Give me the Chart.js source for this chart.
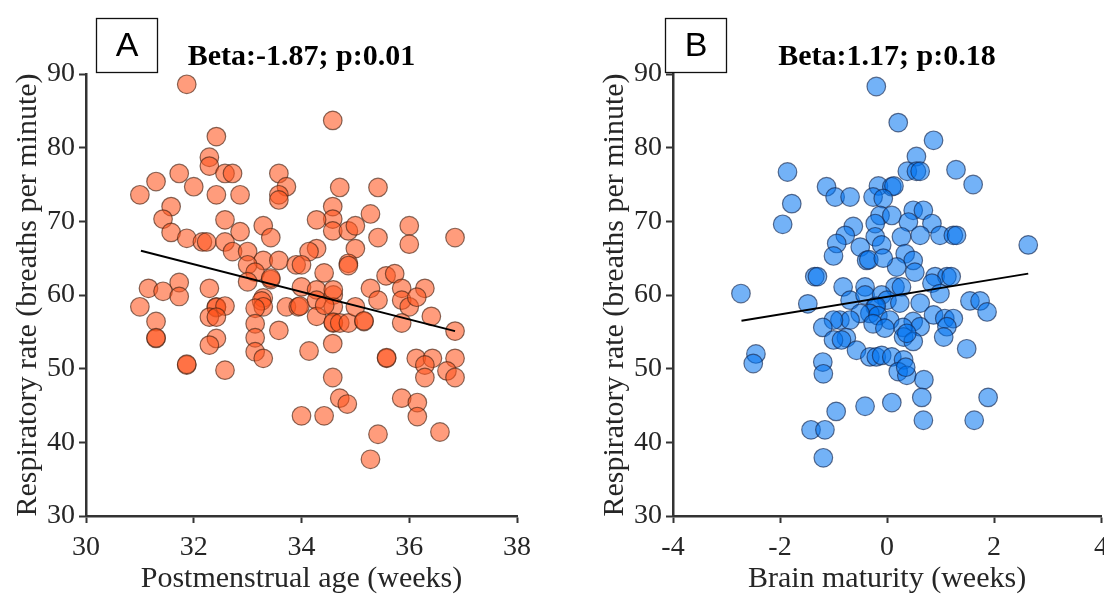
<!DOCTYPE html>
<html>
<head>
<meta charset="utf-8">
<script src="https://cdn.jsdelivr.net/npm/chart.js@4.4.1/dist/chart.umd.min.js"></script>
<style>
    html, body { margin: 0; padding: 0; background: #fff; overflow: hidden; }
    body { width: 1104px; height: 597px; position: relative; }
    .panel { position: absolute; top: 0; width: 552px; height: 597px; }
</style>
</head>
<body>
<div class="panel" style="left:0"><canvas id="chartA"></canvas></div>
<div class="panel" style="left:587px"><canvas id="chartB"></canvas></div>
<script>
// Panel A: postmenstrual age vs respiratory rate
const ageWeeksA = [
    31.87, 32.42, 32.29, 32.29, 32.58, 32.72, 33.58, 33.72, 33.58, 33.58,
    31.73, 31.30, 31.00, 32.00, 32.42, 32.86, 31.58, 31.43, 31.58, 31.87,
    32.16, 32.24, 32.58, 32.86, 32.58, 32.72, 33.00, 33.29, 33.43, 33.29,
    33.58, 33.00, 33.14, 33.43, 33.43, 33.00, 33.90, 31.16, 31.43, 31.73,
    31.73, 32.29, 34.58, 34.71, 35.42, 34.58, 34.58, 34.58, 34.28, 34.87,
    35.00, 35.28, 35.42, 36.00, 36.00, 36.85, 35.00, 34.28, 34.14, 34.00,
    34.42, 34.87, 34.87, 35.57, 35.73, 35.28, 35.86, 36.29, 34.00, 31.00,
    31.30, 31.30, 31.30, 32.42, 32.42, 32.58, 32.29, 32.42, 32.42, 32.29,
    31.87, 31.87, 32.58, 33.29, 33.26, 33.29, 33.14, 33.14, 33.14, 33.14,
    33.29, 33.58, 33.72, 33.94, 33.97, 34.28, 34.28, 34.59, 34.59,
    34.28, 34.59, 34.59, 34.71, 34.87, 35.00, 35.16, 35.16, 35.42, 35.86,
    36.00, 36.14, 36.41, 35.86, 36.85, 34.14, 34.58, 34.58, 34.71, 34.85,
    34.00, 34.42, 35.58, 35.58, 36.13, 36.43, 36.29, 36.29, 36.85, 36.70,
    36.85, 35.86, 36.15, 36.15, 35.42, 36.57, 35.28, 34.59, 34.43
];
const rateA = [
    88.6, 81.5, 78.7, 77.5, 76.5, 76.5, 76.5, 74.7, 73.6, 72.9,
    76.5, 75.4, 73.6, 74.7, 73.6, 73.6, 72.0, 70.3, 68.5, 67.7,
    67.2, 67.2, 70.2, 68.6, 67.2, 65.9, 65.9, 69.4, 67.8, 64.7,
    64.7, 64.1, 63.1, 62.1, 62.3, 61.8, 64.1, 60.9, 60.5, 61.7,
    59.8, 60.9, 83.7, 74.6, 74.6, 72.0, 70.3, 68.7, 70.2, 68.7,
    69.4, 71.0, 67.8, 69.4, 66.9, 67.8, 66.3, 66.3, 65.9, 64.1,
    63.0, 64.3, 64.0, 62.6, 62.9, 60.9, 60.9, 60.9, 61.1, 58.4,
    56.4, 54.1, 54.2, 58.4, 58.3, 58.5, 57.0, 57.0, 54.1, 53.2,
    50.5, 50.6, 49.8, 59.6, 59.2, 58.4, 58.2, 56.1, 54.2, 52.3,
    51.4, 55.2, 58.4, 58.4, 58.5, 60.7, 59.3, 60.0, 58.4,
    57.1, 56.2, 56.3, 56.2, 56.2, 58.4, 56.4, 56.5, 59.3, 59.3,
    58.4, 59.7, 57.1, 56.2, 55.1, 52.4, 53.4, 48.8, 46.0, 45.2,
    43.6, 43.6, 51.4, 51.5, 51.4, 51.4, 50.5, 48.8, 51.4, 49.7,
    48.8, 46.0, 45.4, 43.5, 41.1, 41.4, 37.7, 60.7, 58.6
];
const fitXA = [31.02, 36.85];
const fitYA = [66.0, 55.1];

// Panel B: brain maturity vs respiratory rate
const maturityB = [
    -0.20, 0.21, 0.87, 0.55, 0.38, 0.55, 0.62, 1.29, 1.61, -1.86,
    -1.78, -1.95, -1.13, -0.16, 0.09, 0.13, -0.97, -0.69, -0.26, -0.07,
    0.49, 0.68, -0.13, 0.09, -0.22, -0.63, 0.40, 0.84, -0.78, -0.22,
    0.27, 0.62, 0.99, 1.24, 1.30, -0.94, -1.00, -0.50, -0.10, 0.34,
    0.49, -0.38, -0.34, 0.18, 0.52, -0.07, 2.64, -1.35, -1.30, 0.90,
    1.12, 1.20, -0.82, -0.41, 0.15, 0.27, 0.84, 0.99, -0.69, -0.41,
    -0.10, 0.00, 0.24, 0.62, -0.22, -0.20, -0.32, -0.50, -0.17, 0.05,
    -0.88, -0.69, -1.00, 0.49, 0.62, 0.30, 0.87, 1.08, 1.24, 1.12,
    -1.20, -0.26, -0.04, -0.76, 0.31, 1.06, 1.55, 1.74, 1.87, 1.49,
    -2.73, -1.48, -1.00, -0.85, -0.57, -0.32, -0.20, -0.10, 0.09, 0.31,
    -2.45, -2.50, -1.20, -1.19, 0.21, 0.37, 0.35, 0.69, 0.65, 0.09,
    -0.41, -0.95, -1.42, -1.16, -1.19, 1.89, 0.68, 1.63, 0.49, 0.37
];
const rateB = [
    88.3, 83.4, 81.0, 78.8, 76.8, 76.8, 76.8, 77.0, 75.0, 76.7,
    72.4, 69.6, 74.7, 74.8, 74.7, 74.8, 73.3, 73.3, 73.3, 73.1,
    71.5, 71.5, 70.8, 70.8, 69.7, 69.3, 69.9, 69.7, 68.1, 67.9,
    67.9, 68.1, 68.1, 68.1, 68.1, 67.0, 65.3, 66.5, 66.8, 65.6,
    64.7, 64.7, 64.8, 63.8, 63.1, 65.0, 66.8, 62.5, 62.5, 62.5,
    62.5, 62.5, 61.1, 61.1, 61.1, 61.1, 61.6, 60.2, 59.3, 60.0,
    60.0, 59.3, 58.9, 58.9, 58.4, 58.5, 57.5, 57.5, 57.2, 56.6,
    56.6, 56.6, 56.6, 56.4, 55.7, 55.6, 57.3, 56.8, 56.8, 55.7,
    55.6, 56.1, 55.5, 54.2, 54.3, 54.3, 59.2, 59.2, 57.7, 52.7,
    60.2, 58.8, 53.9, 53.9, 52.5, 51.6, 51.6, 51.8, 51.6, 51.2,
    52.0, 50.7, 50.9, 49.3, 49.6, 49.1, 50.2, 48.5, 46.1, 45.4,
    44.9, 44.2, 41.7, 41.7, 37.9, 46.1, 43.0, 43.0, 53.7, 54.8
];
const fitXB = [-2.72, 2.64];
const fitYB = [56.5, 62.9];

const rateTicks = [30, 40, 50, 60, 70, 80, 90];

const serif = '"Liberation Serif", "Times New Roman", serif';
const ink = '#262626';

// boxed panel letter + bold heading, centred on the plot area
const panelDecor = {
    id: 'panelDecor',
    afterDraw(chart, args, opts) {
        const ctx = chart.ctx;
        const area = chart.chartArea;
        ctx.save();
        ctx.strokeStyle = '#111';
        ctx.lineWidth = 1.3;
        ctx.strokeRect(opts.boxX + 0.5, 18.5, 61, 54);
        ctx.fillStyle = '#000';
        ctx.textAlign = 'center';
        ctx.textBaseline = 'middle';
        ctx.font = '34px "Liberation Sans", Arial, sans-serif';
        ctx.fillText(opts.letter, opts.boxX + 31, 47);
        ctx.font = 'bold 30px ' + serif;
        ctx.textBaseline = 'alphabetic';
        ctx.fillText(opts.heading, (area.left + area.right) / 2, 65);
        ctx.restore();
    }
};

const toPoints = (xs, ys) => xs.map((x, i) => ({ x: x, y: ys[i] }));

const makePanel = (id, cfg) => {
    const axisStyle = {
        grid: { drawOnChartArea: false, drawTicks: true, tickLength: 7, tickColor: '#333', tickWidth: 2 },
        border: { display: true, color: '#333', width: 2.5 }
    };
    return new Chart(document.getElementById(id), {
        type: 'scatter',
        data: {
            datasets: [
                {
                    type: 'line',
                    data: toPoints(cfg.fitX, cfg.fitY),
                    borderColor: '#000',
                    borderWidth: 2,
                    pointRadius: 0,
                    fill: false,
                    order: 0
                },
                {
                    data: toPoints(cfg.xs, cfg.ys),
                    backgroundColor: cfg.fill,
                    borderColor: cfg.edge,
                    borderWidth: 1.2,
                    pointRadius: 9.3,
                    pointHoverRadius: 9.3,
                    order: 1
                }
            ]
        },
        options: {
            responsive: true,
            maintainAspectRatio: false,
            animation: false,
            devicePixelRatio: 1,
            layout: { padding: { top: 74, right: cfg.padRight, bottom: 0, left: 0 } },
            plugins: {
                legend: { display: false },
                tooltip: { enabled: false },
                panelDecor: { letter: cfg.letter, heading: cfg.heading, boxX: cfg.boxX }
            },
            scales: {
                x: {
                    type: 'linear',
                    min: cfg.xMin,
                    max: cfg.xMax,
                    ...axisStyle,
                    ticks: { stepSize: 2, color: ink, padding: 8, font: { family: serif, size: 28 } },
                    title: {
                        display: true, text: cfg.xTitle, color: ink,
                        font: { family: serif, size: 30 }, padding: { top: 0, bottom: 0 }
                    },
                    afterFit: s => { s.height = 81; }
                },
                y: {
                    type: 'linear',
                    min: 30,
                    max: 90,
                    ...axisStyle,
                    afterBuildTicks: s => { s.ticks = rateTicks.map(v => ({ value: v })); },
                    ticks: { color: ink, padding: 4, font: { family: serif, size: 28 } },
                    title: {
                        display: true, text: 'Respiratory rate (breaths per minute)', color: ink,
                        font: { family: serif, size: 30 }, padding: { top: 10, bottom: 0 }
                    },
                    afterFit: s => { s.width = 86; }
                }
            }
        },
        plugins: [panelDecor]
    });
};

makePanel('chartA', {
    xs: ageWeeksA, ys: rateA, fitX: fitXA, fitY: fitYA,
    xMin: 30, xMax: 38, padRight: 35,
    xTitle: 'Postmenstrual age (weeks)',
    letter: 'A', heading: 'Beta:-1.87; p:0.01', boxX: 96,
    fill: 'rgba(255, 85, 30, 0.58)', edge: 'rgba(70, 35, 20, 0.65)'
});

makePanel('chartB', {
    xs: maturityB, ys: rateB, fitX: fitXB, fitY: fitYB,
    xMin: -4, xMax: 4, padRight: 38,
    xTitle: 'Brain maturity (weeks)',
    letter: 'B', heading: 'Beta:1.17; p:0.18', boxX: 78,
    fill: 'rgba(0, 115, 240, 0.55)', edge: 'rgba(20, 40, 80, 0.65)'
});
</script>
</body>
</html>
